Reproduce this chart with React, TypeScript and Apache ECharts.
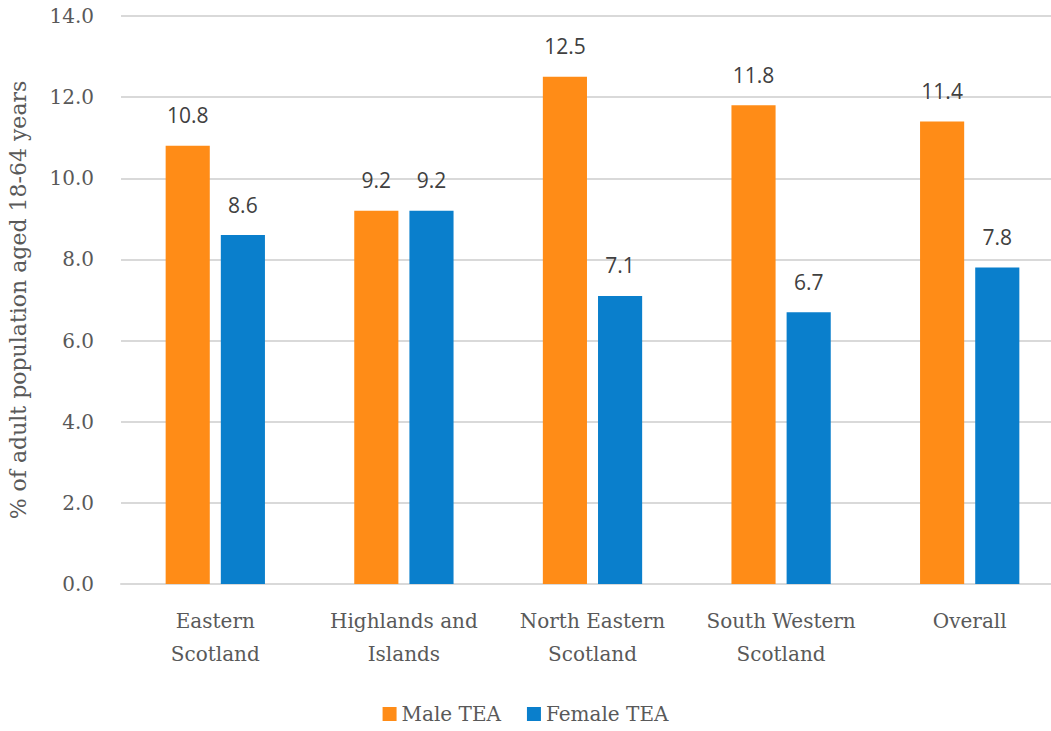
import React, { useEffect, useRef } from "react";
import * as echarts from "echarts";

const categories = ["Eastern\nScotland", "Highlands and\nIslands", "North Eastern\nScotland", "South Western\nScotland", "Overall"];
const maleTEA = [10.8, 9.2, 12.5, 11.8, 11.4];
const femaleTEA = [8.6, 9.2, 7.1, 6.7, 7.8];
const seriesNames = ["Male TEA", "Female TEA"];
const yAxisName = "% of adult population aged 18-64 years";

const FONT = "DejaVu Serif";

export default function App() {
  const ref = useRef<HTMLDivElement>(null);
  useEffect(() => {
    const chart = echarts.init(ref.current!, null, { renderer: "svg" });
    const labelStyle = {
      show: true,
      position: "top" as const,
      distance: 20,
      formatter: (p: any) => p.value.toFixed(1),
      color: "#404040",
      fontSize: 21,
      fontFamily: "Open Sans",
    };
    chart.setOption({
      animation: false,
      backgroundColor: "#ffffff",
      grid: { left: 121, width: 943, top: 16, bottom: 147, containLabel: false, outerBoundsMode: "none" },
      legend: {
        bottom: 2,
        left: "center",
        itemWidth: 14,
        itemHeight: 14,
        itemGap: 26,
        icon: "rect",
        textStyle: { color: "#595959", fontSize: 20, fontFamily: FONT },
        data: seriesNames,
      },
      xAxis: {
        type: "category",
        data: categories,
        axisLine: { lineStyle: { color: "#d9d9d9", width: 2 } },
        axisTick: { show: false },
        axisLabel: { color: "#595959", fontSize: 20, fontFamily: FONT, margin: 20, lineHeight: 33, interval: 0, hideOverlap: false },
      },
      yAxis: {
        type: "value",
        min: 0,
        max: 14,
        interval: 2,
        name: yAxisName,
        nameLocation: "middle",
        nameGap: 92,
        nameTextStyle: { color: "#595959", fontSize: 22, fontFamily: FONT },
        axisLabel: { color: "#595959", fontSize: 20, fontFamily: FONT, margin: 27, formatter: (v: number) => v.toFixed(1) },
        splitLine: { lineStyle: { color: "#d9d9d9", width: 2 } },
        axisLine: { show: false },
        axisTick: { show: false },
      },
      series: [
        {
          name: seriesNames[0],
          type: "bar",
          data: maleTEA,
          barWidth: "23.4%",
          barGap: "25%",
          itemStyle: { color: "#FF8C17" },
          label: labelStyle,
        },
        {
          name: seriesNames[1],
          type: "bar",
          data: femaleTEA,
          barWidth: "23.4%",
          itemStyle: { color: "#0A7FCC" },
          label: labelStyle,
        },
      ],
    });
    return () => chart.dispose();
  }, []);
  return <div ref={ref} style={{ width: 1051, height: 731, position: "absolute", left: 0, top: 0 }} />;
}
